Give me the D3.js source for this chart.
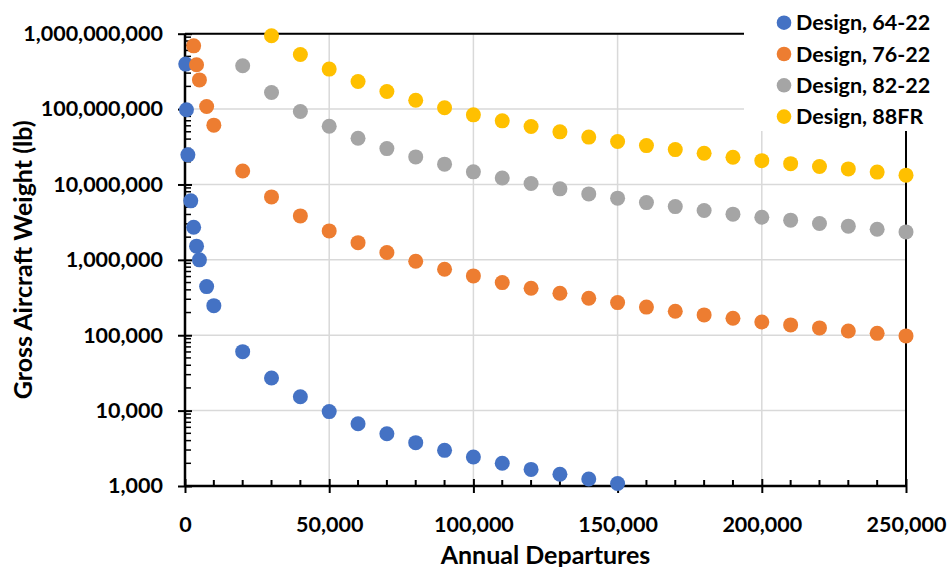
<!DOCTYPE html>
<html>
<head>
<meta charset="utf-8">
<script src="https://cdn.jsdelivr.net/npm/d3@7"></script>
<style>
  html, body { margin: 0; padding: 0; background: #fff; }
  svg { display: block; font-family: Lato, "Open Sans", sans-serif; font-weight: bold; }
</style>
</head>
<body>
<svg id="chart" width="948" height="567"></svg>
<script>
// Allowable gross aircraft weight versus annual departures, per design curve
const seriesNames = ["Design, 64-22", "Design, 76-22", "Design, 82-22", "Design, 88FR"];
const seriesColors = ["#4472C4", "#ED7D31", "#A5A5A5", "#FFC000"];

const departures64 = [250, 500, 1000, 2000, 3000, 4000, 5000, 7500, 10000,
  20000, 30000, 40000, 50000, 60000, 70000, 80000, 90000, 100000,
  110000, 120000, 130000, 140000, 150000];
const weights64 = [3.95e8, 9.8e7, 2.47e7, 6.06e6, 2.71e6, 1.52e6, 1.0e6, 4.42e5, 2.47e5,
  6.06e4, 2.71e4, 1.53e4, 9.7e3, 6.7e3, 4.94e3, 3.76e3, 2.97e3, 2.43e3,
  2.0e3, 1.66e3, 1.43e3, 1.24e3, 1.08e3];

const departures76 = [3000, 4000, 5000, 7500, 10000,
  20000, 30000, 40000, 50000, 60000, 70000, 80000, 90000, 100000,
  110000, 120000, 130000, 140000, 150000, 160000, 170000, 180000, 190000, 200000,
  210000, 220000, 230000, 240000, 250000];
const weights76 = [6.9e8, 3.87e8, 2.44e8, 1.08e8, 6.12e7,
  1.51e7, 6.84e6, 3.83e6, 2.42e6, 1.69e6, 1.25e6, 9.6e5, 7.5e5, 6.12e5,
  4.99e5, 4.2e5, 3.6e5, 3.1e5, 2.71e5, 2.36e5, 2.08e5, 1.86e5, 1.68e5, 1.5e5,
  1.37e5, 1.25e5, 1.14e5, 1.06e5, 9.8e4];

const departures82 = [20000, 30000, 40000, 50000, 60000, 70000, 80000, 90000, 100000,
  110000, 120000, 130000, 140000, 150000, 160000, 170000, 180000, 190000, 200000,
  210000, 220000, 230000, 240000, 250000];
const weights82 = [3.75e8, 1.66e8, 9.27e7, 5.93e7, 4.11e7, 2.99e7, 2.32e7, 1.86e7, 1.47e7,
  1.22e7, 1.03e7, 8.75e6, 7.5e6, 6.58e6, 5.75e6, 5.09e6, 4.51e6, 4.04e6, 3.68e6,
  3.36e6, 3.03e6, 2.8e6, 2.55e6, 2.35e6];

const departures88 = [30000, 40000, 50000, 60000, 70000, 80000, 90000, 100000,
  110000, 120000, 130000, 140000, 150000, 160000, 170000, 180000, 190000, 200000,
  210000, 220000, 230000, 240000, 250000];
const weights88 = [9.38e8, 5.3e8, 3.39e8, 2.32e8, 1.71e8, 1.31e8, 1.04e8, 8.39e7,
  6.98e7, 5.87e7, 4.99e7, 4.25e7, 3.72e7, 3.28e7, 2.9e7, 2.6e7, 2.3e7, 2.07e7,
  1.89e7, 1.73e7, 1.61e7, 1.46e7, 1.33e7];

const xTickValues = [0, 50000, 100000, 150000, 200000, 250000];
const yTickValues = [1e3, 1e4, 1e5, 1e6, 1e7, 1e8, 1e9];
const xTitle = "Annual Departures";
const yTitle = "Gross Aircraft Weight (lb)";

const series = [
  { name: seriesNames[0], color: seriesColors[0], xs: departures64, ys: weights64 },
  { name: seriesNames[1], color: seriesColors[1], xs: departures76, ys: weights76 },
  { name: seriesNames[2], color: seriesColors[2], xs: departures82, ys: weights82 },
  { name: seriesNames[3], color: seriesColors[3], xs: departures88, ys: weights88 }
];

const svg = d3.select("#chart");
const plot = { left: 185, right: 906, top: 33.7, bottom: 486 };

const x = d3.scaleLinear().domain([0, 250000]).range([plot.left, plot.right]);
const y = d3.scaleLog().domain([1e3, 1e9]).range([plot.bottom, plot.top]);
const fmt = d3.format(",");

// gridlines
const grid = svg.append("g");
grid.selectAll("line.gx").data(xTickValues.slice(1)).join("line")
  .attr("x1", d => x(d)).attr("x2", d => x(d))
  .attr("y1", plot.top).attr("y2", plot.bottom)
  .attr("stroke", "#D9D9D9").attr("stroke-width", 1.5);
grid.selectAll("line.gy").data(yTickValues.slice(1)).join("line")
  .attr("x1", plot.left).attr("x2", plot.right)
  .attr("y1", d => y(d)).attr("y2", d => y(d))
  .attr("stroke", "#D9D9D9").attr("stroke-width", 1.5);

// plot-area frame (top and right)
svg.append("path")
  .attr("d", `M${plot.left},${plot.top}H${plot.right}V${plot.bottom}`)
  .attr("fill", "none").attr("stroke", "#000").attr("stroke-width", 2);

// minor ticks
const xMinor = d3.range(0, 250001, 10000).filter(v => v % 50000 !== 0);
const yMinor = [];
yTickValues.slice(0, -1).forEach(p => { for (let k = 2; k <= 9; k++) yMinor.push(p * k); });

// x axis
const xAxis = svg.append("g").attr("transform", `translate(0,${plot.bottom})`);
xAxis.call(d3.axisBottom(x).tickValues(xTickValues).tickFormat(fmt).tickSize(7).tickPadding(24));
xAxis.selectAll(".tick line").attr("y1", -7).attr("stroke-width", 2);
xAxis.selectAll("line.minor").data(xMinor).join("line").attr("class", "minor")
  .attr("x1", d => x(d)).attr("x2", d => x(d)).attr("y1", 0).attr("y2", -6)
  .attr("stroke", "#000").attr("stroke-width", 2);

// y axis
const yAxis = svg.append("g").attr("transform", `translate(${plot.left},0)`);
yAxis.call(d3.axisLeft(y).tickValues(yTickValues).tickFormat(fmt).tickSize(7).tickPadding(15));
yAxis.selectAll(".tick line").attr("x1", 7).attr("stroke-width", 2);
yAxis.selectAll("line.minor").data(yMinor).join("line").attr("class", "minor")
  .attr("x1", 0).attr("x2", 6).attr("y1", d => y(d)).attr("y2", d => y(d))
  .attr("stroke", "#000").attr("stroke-width", 1.5);

[xAxis, yAxis].forEach(a => {
  a.select(".domain").attr("stroke", "#000").attr("stroke-width", 2.5);
  a.selectAll(".tick text").attr("fill", "#000")
    .style("font-family", "Lato, sans-serif").style("font-weight", "bold").style("font-size", "21.5px");
});
xAxis.select(".domain").attr("d", `M${plot.left},0H${plot.right}`);
yAxis.select(".domain").attr("d", `M0,${plot.bottom}V${plot.top}`);

// axis titles
svg.append("text").attr("x", (plot.left + plot.right) / 2).attr("y", 563.5)
  .attr("text-anchor", "middle").attr("font-size", 25).text(xTitle);
svg.append("text").attr("transform", `translate(31.5,${(plot.top + plot.bottom) / 2}) rotate(-90)`)
  .attr("text-anchor", "middle").attr("font-size", 25).text(yTitle);

// markers
series.forEach(s => {
  const pts = s.xs.map((d, i) => ({ x: d, y: s.ys[i] }));
  svg.append("g").selectAll("circle").data(pts).join("circle")
    .attr("cx", d => x(d.x)).attr("cy", d => y(d.y)).attr("r", 7.5)
    .attr("fill", s.color);
});

// legend
const legend = svg.append("g");
legend.append("rect").attr("x", 744).attr("y", 0).attr("width", 204).attr("height", 131).attr("fill", "#fff");
const items = legend.selectAll("g.item").data(series).join("g")
  .attr("transform", (d, i) => `translate(784,${22.7 + i * 31.3})`);
items.append("circle").attr("r", 7.3).attr("fill", d => d.color);
items.append("text").attr("x", 12).attr("dy", "0.35em").attr("font-size", 21.5).text(d => d.name);
</script>
</body>
</html>
